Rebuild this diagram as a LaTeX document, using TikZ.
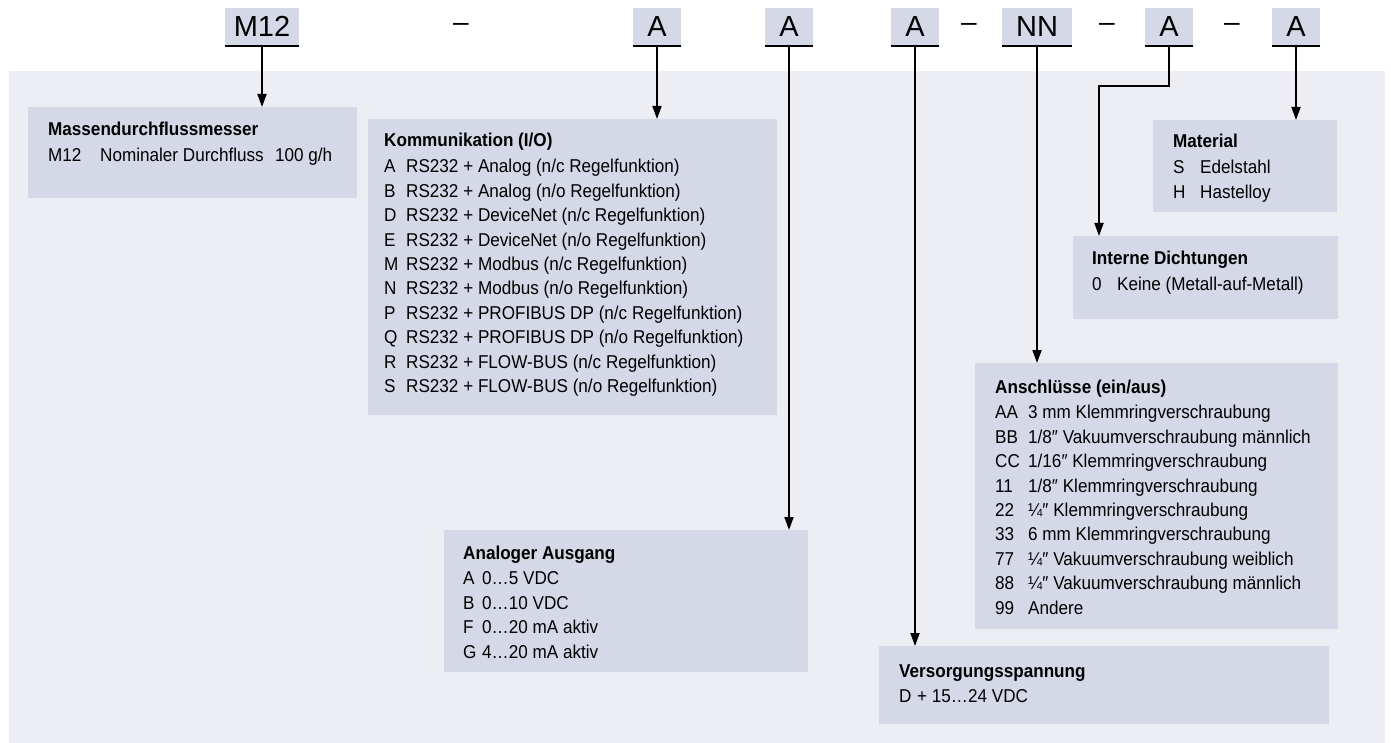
\documentclass[tikz,border=0pt]{standalone}
\usepackage{fontspec}
\setmainfont{Liberation Sans}
\newfontfamily\cond[FakeStretch=0.92]{Liberation Sans}
\usetikzlibrary{arrows.meta}
\definecolor{panel}{RGB}{237,238,244}
\definecolor{boxc}{RGB}{213,216,231}
\newcommand\Ln[3]{\hbox{\makebox[#1][l]{#2}#3}}
\newcommand\Ttl[1]{\hbox{\bfseries #1}\vskip1.5pt}
\begin{document}
\begin{tikzpicture}[x=1pt,y=-1pt,
  topc/.style={fill=boxc, minimum height=37pt, inner sep=0pt, outer sep=0pt,
    font=\fontsize{29}{31}\selectfont, text height=20.5pt, text depth=0pt},
  dashc/.style={anchor=base, inner sep=0pt, font=\fontsize{28}{30}\selectfont},
  descbox/.style={fill=boxc, anchor=north west, inner sep=0pt, outer sep=0pt},
  txt/.style={anchor=base west, inner sep=0pt, font=\cond\fontsize{18.6}{24.4}\selectfont},
  arr/.style={line width=1.8pt, -{Triangle[length=13pt,width=9pt]}},
  conn/.style={line width=1.8pt}]
\useasboundingbox (0,0) rectangle (1391,743);
\fill[white] (0,0) rectangle (1391,743);
\fill[panel] (9,71) rectangle (1385,743);

% top code boxes
\node[topc, minimum width=74pt] (cM) at (262,26.5) {M12};
\node[topc, minimum width=48pt] (cA1) at (657,26.5) {A};
\node[topc, minimum width=48pt] (cA2) at (789,26.5) {A};
\node[topc, minimum width=48pt] (cA3) at (915,26.5) {A};
\node[topc, minimum width=70pt] (cNN) at (1037,26.5) {NN};
\node[topc, minimum width=48pt] (cA4) at (1169,26.5) {A};
\node[topc, minimum width=48pt] (cA5) at (1296,26.5) {A};
\foreach \n in {cM,cA1,cA2,cA3,cNN,cA4,cA5}
  \draw[line width=2.5pt] ([yshift=-1pt]\n.south west) -- ([yshift=-1pt]\n.south east);
\node[dashc] (d1) at (461,32) {–};
\node[dashc] (d2) at (969,32) {–};
\node[dashc] (d3) at (1107,32) {–};
\node[dashc] (d4) at (1232,32) {–};

% description boxes
\node[descbox, minimum width=329pt, minimum height=91pt] (mass) at (28,107) {};
\node[descbox, minimum width=409pt, minimum height=296pt] (komm) at (368,119) {};
\node[descbox, minimum width=364pt, minimum height=142pt] (analog) at (444,530) {};
\node[descbox, minimum width=184pt, minimum height=92pt] (material) at (1153,120) {};
\node[descbox, minimum width=265pt, minimum height=83pt] (interne) at (1073,236) {};
\node[descbox, minimum width=363pt, minimum height=266pt] (ansch) at (975,363) {};
\node[descbox, minimum width=450pt, minimum height=78pt] (versorg) at (879,646) {};

% texts
\node[txt] (massT) at (48,136) {\vtop{\Ttl{Massendurchflussmesser}
  \Ln{52pt}{M12}{\makebox[175pt][l]{Nominaler Durchfluss}100 g/h}}};
\node[txt] (kommT) at (384,147) {\vtop{\Ttl{Kommunikation (I/O)}
  \Ln{22pt}{A}{RS232 + Analog (n/c Regelfunktion)}
  \Ln{22pt}{B}{RS232 + Analog (n/o Regelfunktion)}
  \Ln{22pt}{D}{RS232 + DeviceNet (n/c Regelfunktion)}
  \Ln{22pt}{E}{RS232 + DeviceNet (n/o Regelfunktion)}
  \Ln{22pt}{M}{RS232 + Modbus (n/c Regelfunktion)}
  \Ln{22pt}{N}{RS232 + Modbus (n/o Regelfunktion)}
  \Ln{22pt}{P}{RS232 + PROFIBUS DP (n/c Regelfunktion)}
  \Ln{22pt}{Q}{RS232 + PROFIBUS DP (n/o Regelfunktion)}
  \Ln{22pt}{R}{RS232 + FLOW-BUS (n/c Regelfunktion)}
  \Ln{22pt}{S}{RS232 + FLOW-BUS (n/o Regelfunktion)}}};
\node[txt] (analogT) at (463,559) {\vtop{\Ttl{Analoger Ausgang}
  \Ln{19pt}{A}{0…5 VDC}
  \Ln{19pt}{B}{0…10 VDC}
  \Ln{19pt}{F}{0…20 mA aktiv}
  \Ln{19pt}{G}{4…20 mA aktiv}}};
\node[txt] (materialT) at (1173,148) {\vtop{\Ttl{Material}
  \Ln{27pt}{S}{Edelstahl}
  \Ln{27pt}{H}{Hastelloy}}};
\node[txt] (interneT) at (1092,265) {\vtop{\Ttl{Interne Dichtungen}
  \Ln{25pt}{0}{Keine (Metall-auf-Metall)}}};
\node[txt] (anschT) at (995,393) {\vtop{\Ttl{Anschlüsse (ein/aus)}
  \Ln{33pt}{AA}{3 mm Klemmringverschraubung}
  \Ln{33pt}{BB}{1/8″ Vakuumverschraubung männlich}
  \Ln{33pt}{CC}{1/16″ Klemmringverschraubung}
  \Ln{33pt}{11}{1/8″ Klemmringverschraubung}
  \Ln{33pt}{22}{¼″ Klemmringverschraubung}
  \Ln{33pt}{33}{6 mm Klemmringverschraubung}
  \Ln{33pt}{77}{¼″ Vakuumverschraubung weiblich}
  \Ln{33pt}{88}{¼″ Vakuumverschraubung männlich}
  \Ln{33pt}{99}{Andere}}};
\node[txt] (versorgT) at (899,677) {\vtop{\Ttl{Versorgungsspannung}
  \Ln{18pt}{D}{+ 15…24 VDC}}};

% connectors
\coordinate (jog) at (1099,86);
\draw[arr] (cM.south) -- (cM.south |- mass.north);
\draw[arr] (cA1.south) -- (cA1.south |- komm.north);
\draw[arr] (cA2.south) -- (cA2.south |- analog.north);
\draw[arr] (cA3.south) -- (cA3.south |- versorg.north);
\draw[arr] (cNN.south) -- (cNN.south |- ansch.north);
\draw[arr] (cA4.south) |- (jog) -- (jog |- interne.north);
\draw[arr] (cA5.south) -- (cA5.south |- material.north);
\end{tikzpicture}
\end{document}
